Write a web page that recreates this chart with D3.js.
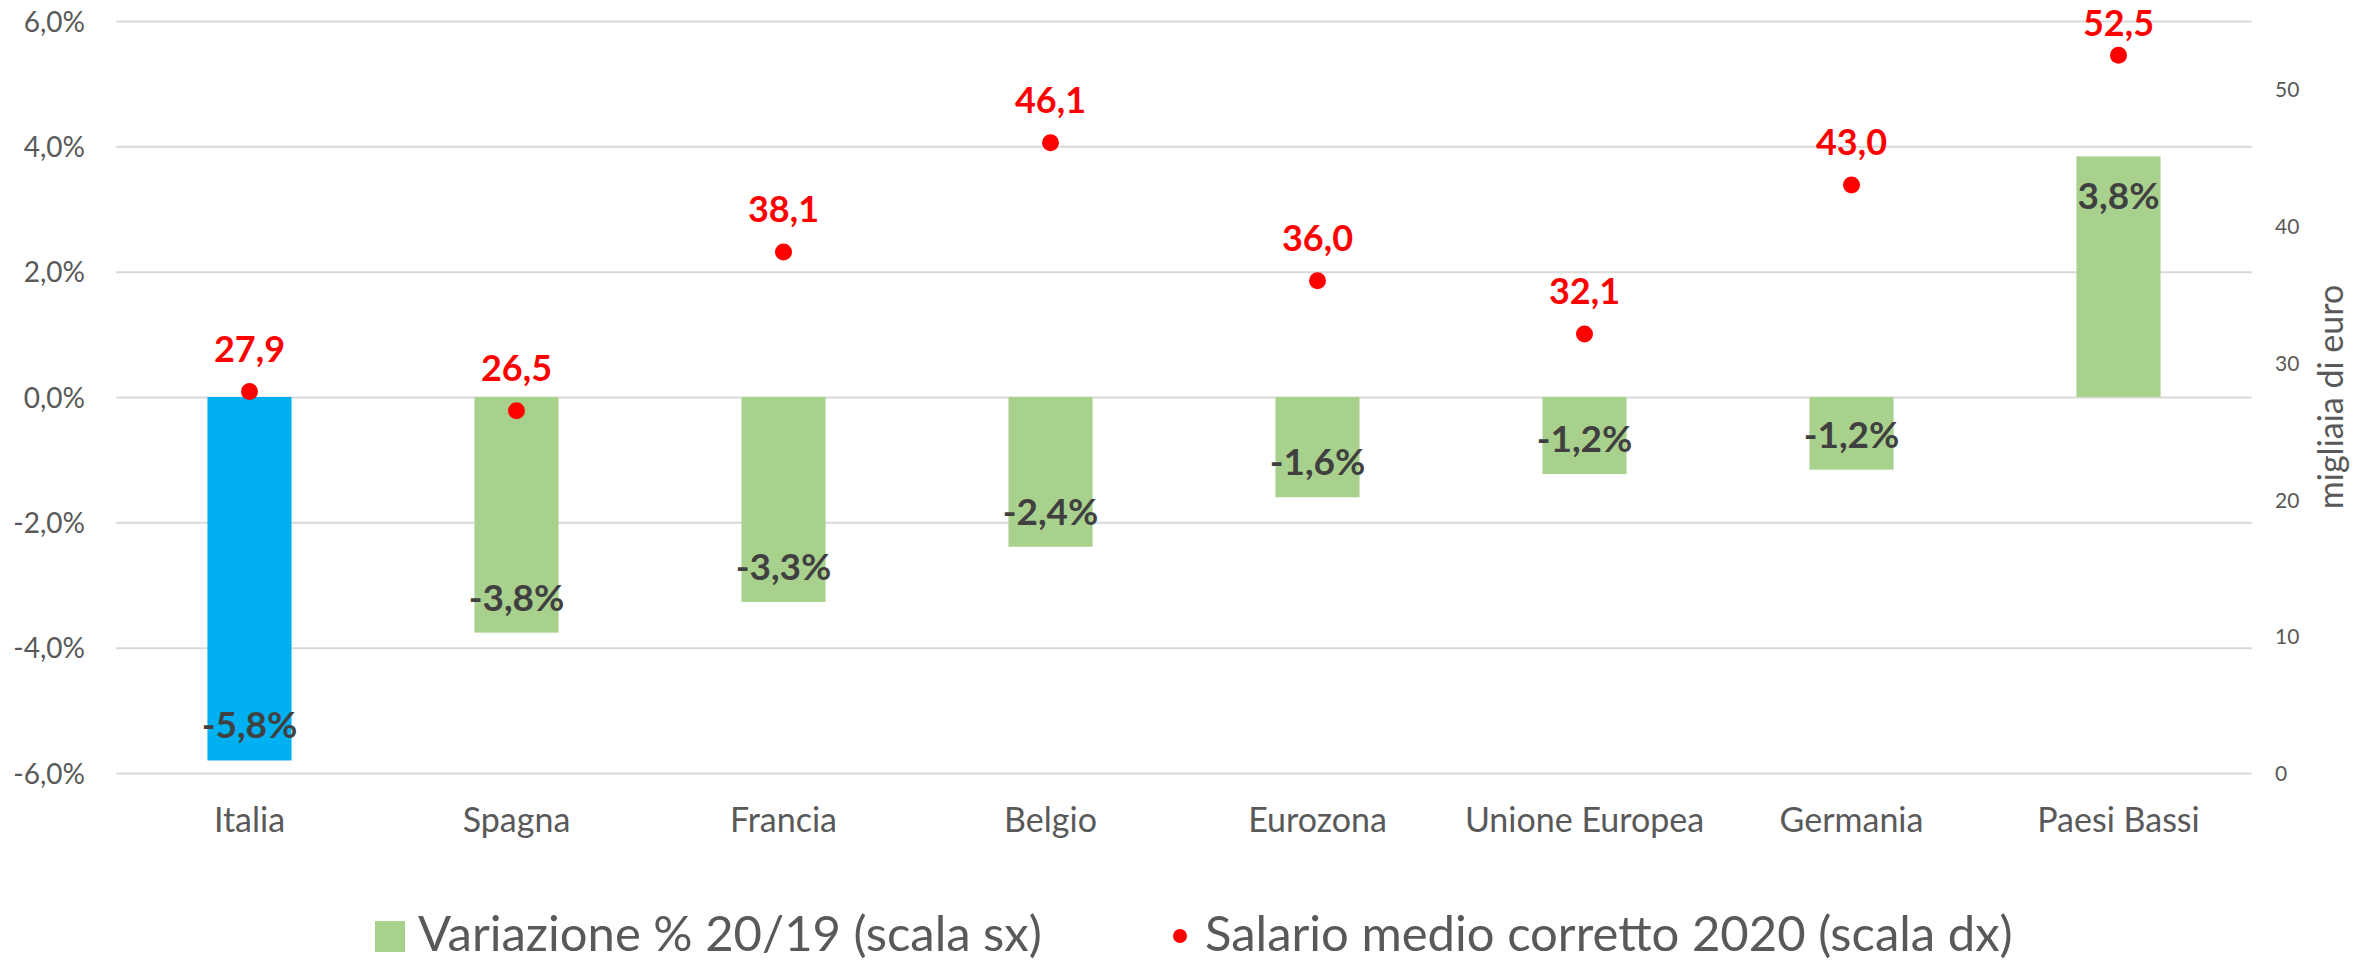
<!DOCTYPE html>
<html>
<head>
<meta charset="utf-8">
<script src="https://cdn.jsdelivr.net/npm/d3@7/dist/d3.min.js"></script>
<style>
body{margin:0;background:#fff;}
svg{display:block;font-family:Lato,"Open Sans",sans-serif;}
</style>
</head>
<body>
<svg id="chart"></svg>
<script>
// data
var paesi=["Italia","Spagna","Francia","Belgio","Eurozona","Unione Europea","Germania","Paesi Bassi"]
var variazione=[-5.8,-3.76,-3.27,-2.39,-1.6,-1.23,-1.16,3.84]
var salario=[27.9,26.5,38.1,46.1,36.0,32.1,43.0,52.5]
var ticksSx=[-6,-4,-2,0,2,4,6]
var ticksDx=[0,10,20,30,40,50]
var legendaVoci=["Variazione % 20/19 (scala sx)","Salario medio corretto 2020 (scala dx)"]

var screen={width:2376,height:961}
var margins={top:21,bottom:188,left:116,right:124}
var font="Lato, 'Open Sans', sans-serif"

var it=d3.formatLocale({decimal:",",thousands:".",grouping:[3],currency:["€",""],minus:"-"})
var fmt1=it.format(".1f")

var svg=d3.select("#chart")
    .attr("width",screen.width)
    .attr("height",screen.height)

var x0=margins.left, x1=screen.width-margins.right
var y0=screen.height-margins.bottom

var xScale=d3.scaleBand()
    .domain(paesi)
    .range([x0,x1])
    .paddingInner(0.685)
    .paddingOuter(0.3425)
var ySx=d3.scaleLinear().domain([-6,6]).range([y0,margins.top])
var yDx=d3.scaleLinear().domain([0,55]).range([y0,margins.top])

//left axis + gridlines
var gSx=svg.append("g")
    .attr("transform","translate("+x0+",0)")
    .call(d3.axisLeft(ySx).tickValues(ticksSx)
        .tickSize(-(x1-x0)).tickPadding(31)
        .tickFormat(function(d){return fmt1(d)+"%"}))
    .attr("font-family",font)
gSx.select(".domain").remove()
gSx.selectAll("line").attr("stroke","#d9d9d9").attr("stroke-width",2)
gSx.selectAll("text").attr("fill","#595959").attr("font-size",28).attr("dy","0.36em")

//right axis
var gDx=svg.append("g")
    .attr("transform","translate("+x1+",0)")
    .call(d3.axisRight(yDx).tickValues(ticksDx).tickSize(0).tickPadding(23))
    .attr("font-family",font)
gDx.select(".domain").remove()
gDx.selectAll("text").attr("fill","#595959").attr("font-size",21).attr("dy","0.36em")

svg.append("text")
    .attr("transform","translate(2343,397) rotate(-90)")
    .attr("text-anchor","middle")
    .attr("fill","#595959")
    .attr("font-size",34)
    .text("migliaia di euro")

//bars
var dati=paesi.map(function(p,i){return {paese:p,v:variazione[i],s:salario[i]}})
svg.append("g").selectAll("rect")
    .data(dati)
    .enter()
    .append("rect")
    .attr("x",function(d){return xScale(d.paese)})
    .attr("width",xScale.bandwidth())
    .attr("y",function(d){return ySx(Math.max(0,d.v))})
    .attr("height",function(d){return Math.abs(ySx(d.v)-ySx(0))})
    .attr("fill",function(d){return d.paese=="Italia"?"#00b0f0":"#a9d18e"})

//x axis labels
var gX=svg.append("g")
    .attr("transform","translate(0,"+y0+")")
    .call(d3.axisBottom(xScale).tickSize(0).tickPadding(35))
    .attr("font-family",font)
gX.select(".domain").remove()
gX.selectAll("text").attr("fill","#595959").attr("font-size",34)

//bar labels
svg.append("g").selectAll("text")
    .data(dati)
    .enter()
    .append("text")
    .attr("x",function(d){return xScale(d.paese)+xScale.bandwidth()/2})
    .attr("y",function(d){return d.v<0?ySx(d.v)-22:ySx(d.v)+53})
    .attr("text-anchor","middle")
    .attr("font-size",37)
    .attr("font-weight","bold")
    .attr("fill","#404040")
    .text(function(d){return fmt1(d.v)+"%"})

//salary dots
svg.append("g").selectAll("circle")
    .data(dati)
    .enter()
    .append("circle")
    .attr("cx",function(d){return xScale(d.paese)+xScale.bandwidth()/2})
    .attr("cy",function(d){return yDx(d.s)})
    .attr("r",8.5)
    .attr("fill","#ff0000")
svg.append("g").selectAll("text")
    .data(dati)
    .enter()
    .append("text")
    .attr("x",function(d){return xScale(d.paese)+xScale.bandwidth()/2})
    .attr("y",function(d){return Math.max(yDx(d.s)-30,36)})
    .attr("text-anchor","middle")
    .attr("font-size",36)
    .attr("font-weight","bold")
    .attr("fill","#ff0000")
    .text(function(d){return fmt1(d.s)})

//legend
var leg=svg.append("g").attr("font-size",49).attr("fill","#595959")
leg.append("rect").attr("x",375).attr("y",921).attr("width",30).attr("height",31).attr("fill","#a9d18e")
leg.append("text").attr("x",418).attr("y",951).text(legendaVoci[0])
leg.append("circle").attr("cx",1180).attr("cy",936).attr("r",7).attr("fill","#ff0000")
leg.append("text").attr("x",1205).attr("y",951).text(legendaVoci[1])
</script>
</body>
</html>
